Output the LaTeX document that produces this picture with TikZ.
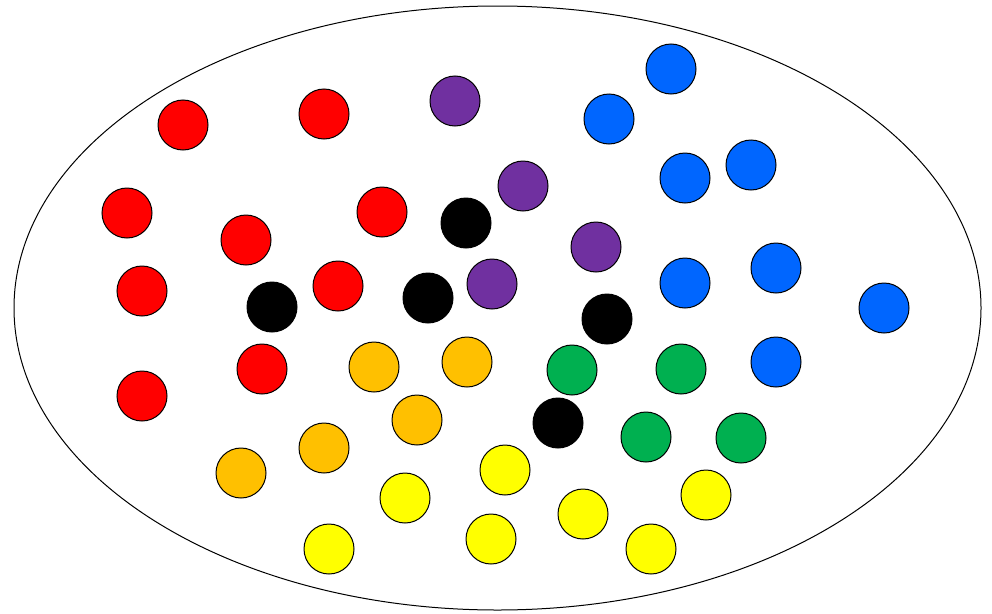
\documentclass[tikz,border=0pt]{standalone}
\definecolor{cred}{HTML}{FF0000}
\definecolor{cpurple}{HTML}{7030A0}
\definecolor{cblue}{HTML}{0066FF}
\definecolor{corange}{HTML}{FFC000}
\definecolor{cgreen}{HTML}{00B050}
\definecolor{cyellow}{HTML}{FFFF00}
\begin{document}
\begin{tikzpicture}[x=1pt,y=-1pt,
  dot/.style={circle,draw=black,line width=1pt,minimum size=50pt,inner sep=0pt}]
\useasboundingbox (0,0) rectangle (992,613);
\draw[line width=1pt] (497.5,308) ellipse [x radius=483.5, y radius=302];
\foreach \x/\y [count=\i] in {183/125,324/114,127/213,246/240,382/212,142/291,338/286,262/369,142/396}
  \node[dot,fill=cred] (r\i) at (\x,\y) {};
\foreach \x/\y [count=\i] in {455/101,523/186,596/247,492/284}
  \node[dot,fill=cpurple] (p\i) at (\x,\y) {};
\foreach \x/\y [count=\i] in {466/223,272/307,428/298,607/319,558/423}
  \node[dot,fill=black] (k\i) at (\x,\y) {};
\foreach \x/\y [count=\i] in {671/69,609/119,685/178,751/165,685/283,776/268,884/308,776/362}
  \node[dot,fill=cblue] (b\i) at (\x,\y) {};
\foreach \x/\y [count=\i] in {374/367,467/362,417/420,324/448,241/473}
  \node[dot,fill=corange] (o\i) at (\x,\y) {};
\foreach \x/\y [count=\i] in {572/370,681/369,646/437,741/438}
  \node[dot,fill=cgreen] (g\i) at (\x,\y) {};
\foreach \x/\y [count=\i] in {505/470,405/498,706/495,583/514,491/539,329/549,651/549}
  \node[dot,fill=cyellow] (y\i) at (\x,\y) {};
\end{tikzpicture}
\end{document}
